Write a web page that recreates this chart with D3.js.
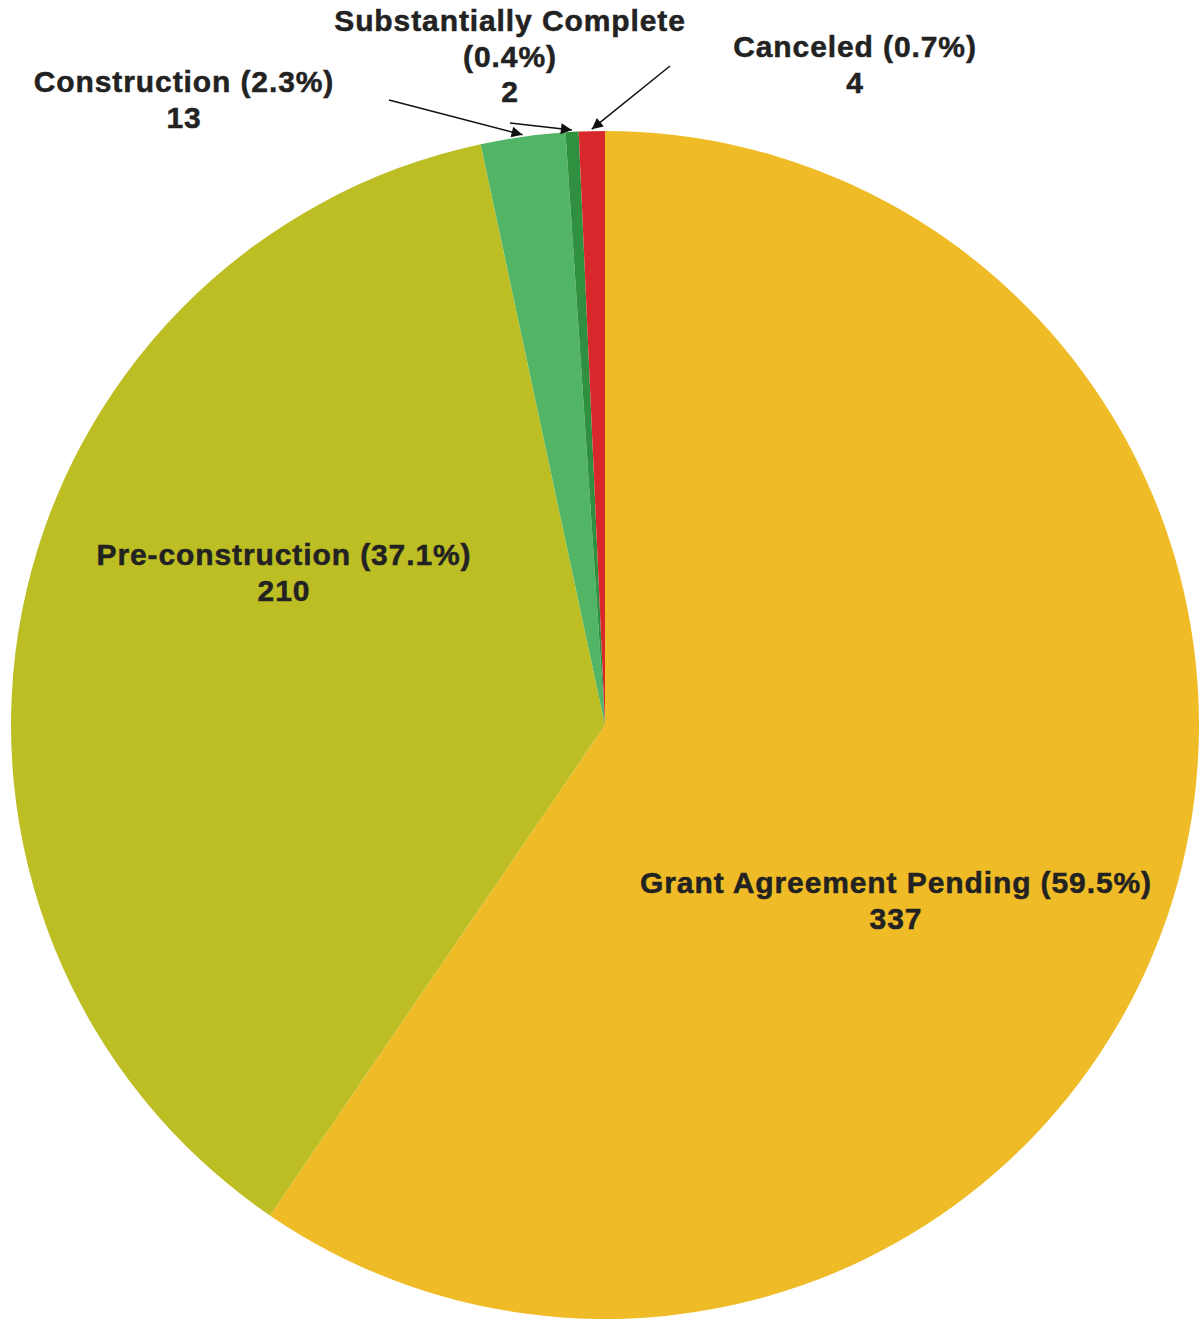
<!DOCTYPE html>
<html>
<head>
  <meta charset="utf-8">
  <script src="https://d3js.org/d3.v7.min.js"></script>
  <style>
    body { margin: 0; background: #fff; }
    text { font-family: "Liberation Sans", Arial, sans-serif; font-weight: bold; fill: #222; stroke: #222; stroke-width: 0.5px; }
  </style>
</head>
<body>
<div id="chart"></div>
<script>
  // data
  var categories = ["Grant Agreement Pending", "Pre-construction", "Construction", "Substantially Complete", "Canceled"];
  var counts = [337, 210, 13, 2, 4];
  var colours = ["#EFBC27", "#BDBD24", "#52B566", "#2F9140", "#D7292C"];

  var width = 1202, height = 1320;
  var cx = 605, cy = 725, R = 594;

  // where the labels sit (centre x, first baseline) and whether they get an arrow
  var labelLayout = [
    { x: 896, y: 893, lines: 1, arrow: null },
    { x: 284, y: 565, lines: 1, arrow: null },
    { x: 184, y: 92,  lines: 1, arrow: [389, 100] },
    { x: 510, y: 31,  lines: 2, arrow: [510, 123] },
    { x: 855, y: 57,  lines: 1, arrow: [670, 66] }
  ];

  var total = d3.sum(counts);
  var data = categories.map(function(c, i) { return { name: c, value: counts[i], colour: colours[i] }; });

  var svg = d3.select("#chart").append("svg")
      .attr("width", width)
      .attr("height", height);

  svg.append("defs").append("marker")
      .attr("id", "head")
      .attr("viewBox", "0 0 10 10")
      .attr("refX", 10).attr("refY", 5)
      .attr("markerWidth", 17).attr("markerHeight", 11)
      .attr("markerUnits", "userSpaceOnUse")
      .attr("orient", "auto")
    .append("path")
      .attr("d", "M0,0 L10,5 L0,10 Z")
      .attr("fill", "#111");

  var pie = d3.pie().sort(null).value(function(d) { return d.value; });
  var arcs = pie(data);
  var arc = d3.arc().innerRadius(0).outerRadius(R);

  var g = svg.append("g").attr("transform", "translate(" + cx + "," + cy + ")");

  g.selectAll("path.slice")
    .data(arcs)
    .enter().append("path")
      .attr("class", "slice")
      .attr("d", arc)
      .attr("fill", function(d) { return d.data.colour; });

  // arrows from the outside labels to the thin slices
  arcs.forEach(function(a, i) {
    var lay = labelLayout[i];
    if (!lay.arrow) return;
    var mid = (a.startAngle + a.endAngle) / 2;
    var tx = cx + Math.sin(mid) * (R + 2);
    var ty = cy - Math.cos(mid) * (R + 2);
    svg.append("line")
      .attr("x1", lay.arrow[0]).attr("y1", lay.arrow[1])
      .attr("x2", tx).attr("y2", ty)
      .attr("stroke", "#111")
      .attr("stroke-width", 1.5)
      .attr("marker-end", "url(#head)");
  });

  // labels
  var fmt = d3.format(".1f");
  arcs.forEach(function(a, i) {
    var lay = labelLayout[i];
    var pct = "(" + fmt(a.data.value / total * 100) + "%)";
    var lines = lay.lines === 2 ? [a.data.name, pct, a.data.value] : [a.data.name + " " + pct, a.data.value];
    var t = svg.append("text")
      .attr("text-anchor", "middle")
      .attr("font-size", 30)
      .attr("letter-spacing", 0.9);
    lines.forEach(function(s, k) {
      t.append("tspan")
        .attr("x", lay.x)
        .attr("y", lay.y + k * 35.5)
        .text(s);
    });
  });
</script>
</body>
</html>
